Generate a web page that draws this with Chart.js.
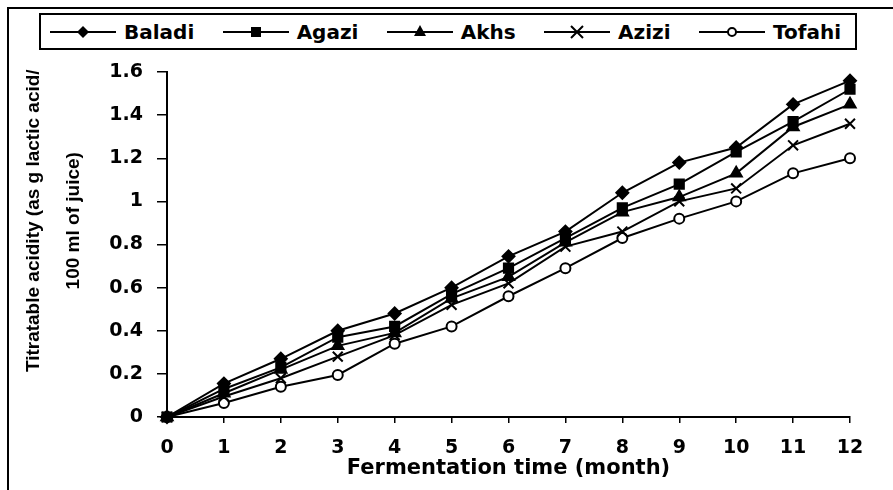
<!DOCTYPE html>
<html>
<head>
<meta charset="utf-8">
<script src="https://cdn.jsdelivr.net/npm/chart.js@4/dist/chart.umd.min.js"></script>
<style>
  body { margin: 0; background: #fff; }
  #wrap { position: relative; width: 893px; height: 490px; overflow: hidden; }
  #frame { position: absolute; left: 7px; top: 7px; width: 900px; height: 500px; border-left: 2px solid #000; border-top: 2px solid #000; }
  #legend {
    position: absolute; left: 39px; top: 13px; width: 818px; height: 37px;
    box-sizing: border-box; border: 2px solid #000; background: #fff;
    display: flex; align-items: center; justify-content: space-between;
    padding: 0 14px 0 9px;
    font: bold 20px "DejaVu Sans", sans-serif; color: #000;
  }
  #legend span { display: flex; align-items: center; }
  #legend svg { margin-right: 8px; }
  canvas { position: absolute; left: 0; top: 0; }
</style>
</head>
<body>
<div id="wrap">
  <div id="frame"></div>
  <canvas id="acidity-chart" width="893" height="490"></canvas>
  <div id="legend"></div>
</div>
<script>
const months = ['0', '1', '2', '3', '4', '5', '6', '7', '8', '9', '10', '11', '12'];
const baladi = [0, 0.155, 0.27, 0.40, 0.48, 0.60, 0.745, 0.86, 1.04, 1.18, 1.25, 1.45, 1.56];
const agazi = [0, 0.13, 0.23, 0.37, 0.42, 0.57, 0.69, 0.83, 0.97, 1.08, 1.23, 1.37, 1.52];
const akhs = [0, 0.11, 0.22, 0.33, 0.39, 0.55, 0.65, 0.81, 0.95, 1.02, 1.13, 1.345, 1.45];
const azizi = [0, 0.095, 0.18, 0.28, 0.38, 0.52, 0.62, 0.79, 0.86, 1.00, 1.06, 1.26, 1.36];
const tofahi = [0, 0.065, 0.14, 0.195, 0.34, 0.42, 0.56, 0.69, 0.83, 0.92, 1.00, 1.13, 1.20];

const seriesNames = ['Baladi', 'Agazi', 'Akhs', 'Azizi', 'Tofahi'];
const seriesData = [baladi, agazi, akhs, azizi, tofahi];
const markerStyles = ['rectRot', 'rect', 'triangle', 'crossRot', 'circle'];
const markerSizes = [6, 6.5, 6.5, 7, 5];

const tickFont = { family: 'DejaVu Sans', weight: 'bold', size: 19 };

// legend icons: line with the marker in the middle
function legendIcon(style) {
    let m = '';
    if (style === 'rectRot') m = '<polygon points="33,4 39,10 33,16 27,10" fill="#000"/>';
    if (style === 'rect') m = '<rect x="28" y="5" width="10" height="10" fill="#000"/>';
    if (style === 'triangle') m = '<polygon points="33,3 39,14 27,14" fill="#000"/>';
    if (style === 'crossRot') m = '<path d="M27,4 L39,16 M39,4 L27,16" stroke="#000" stroke-width="2"/>';
    if (style === 'circle') m = '<circle cx="33" cy="10" r="4" fill="#fff" stroke="#000" stroke-width="2"/>';
    return '<svg width="66" height="20"><line x1="0" y1="10" x2="66" y2="10" stroke="#000" stroke-width="2"/>' + m + '</svg>';
}
document.getElementById('legend').innerHTML = seriesNames
    .map((name, i) => '<span>' + legendIcon(markerStyles[i]) + name + '</span>').join('');

const datasets = seriesNames.map((name, i) => ({
    label: name,
    data: seriesData[i],
    borderColor: '#000',
    borderWidth: 2,
    pointStyle: markerStyles[i],
    pointRadius: markerSizes[i],
    pointBorderWidth: 2,
    pointBorderColor: '#000',
    pointBackgroundColor: markerStyles[i] === 'circle' ? '#fff' : '#000',
    tension: 0,
    clip: false
}));

new Chart(document.getElementById('acidity-chart'), {
    type: 'line',
    data: { labels: months, datasets: datasets },
    options: {
        responsive: false,
        animation: false,
        layout: { padding: { left: 10, top: 72, right: 43, bottom: 0 } },
        plugins: { legend: { display: false }, tooltip: { enabled: false } },
        scales: {
            x: {
                grid: { drawOnChartArea: false, color: '#000', lineWidth: 1.5, tickLength: 6 },
                border: { color: '#000', width: 2 },
                ticks: { color: '#000', font: tickFont, padding: 14, maxRotation: 0, autoSkip: false },
                title: {
                    display: true, text: 'Fermentation time (month)', color: '#000',
                    font: { family: 'DejaVu Sans', weight: 'bold', size: 21 },
                    padding: { top: 0, bottom: 9 }
                },
                afterFit: s => { s.height = 73; }
            },
            y: {
                min: 0, max: 1.6,
                grid: { drawOnChartArea: false, color: '#000', lineWidth: 1.5, tickLength: 10 },
                border: { color: '#000', width: 2 },
                ticks: {
                    stepSize: 0.2, color: '#000', font: tickFont, padding: 14,
                    callback: v => String(Number(v.toFixed(1)))
                },
                title: {
                    display: true,
                    text: ['         Titratable acidity (as g lactic acid/', '         100 ml of juice)'],
                    color: '#000',
                    font: { family: 'Liberation Sans', weight: 'bold', size: 19, lineHeight: 2.1 },
                    padding: { top: 4, bottom: 0 }
                },
                afterFit: s => { s.width = 157; }
            }
        }
    }
});
</script>
</body>
</html>
